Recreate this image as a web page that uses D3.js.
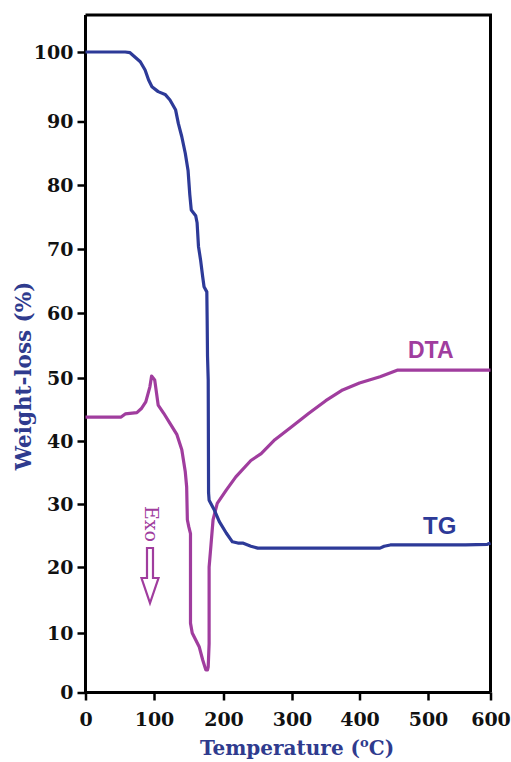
<!DOCTYPE html>
<html>
<head>
<meta charset="utf-8">
<script src="https://cdn.jsdelivr.net/npm/d3@7"></script>
<style>
  html, body { margin: 0; padding: 0; background: #fff; }
  svg { display: block; }
</style>
</head>
<body>
<svg id="chart" width="511" height="762"></svg>
<script>
// Temperature (°C) and weight loss (%) of the TG trace
const tgTemp = [0, 58, 65, 80, 87, 92, 97, 106, 116, 123, 131, 135, 140, 145, 149, 151.5, 153.6, 160, 162, 164, 167, 170, 172, 176, 176.5, 177, 178, 178.5, 179.3, 187, 194, 204, 213, 221, 228, 240, 250, 300, 380, 430, 436, 445, 500, 560, 595, 600];
const tgValue = [100, 100, 99.9, 98.6, 97.4, 96, 95, 94.3, 93.9, 93.1, 91.7, 89.7, 87.6, 85, 82.3, 78.5, 76.1, 75.2, 74.1, 70.4, 68.3, 65.7, 64.1, 63.3, 58.9, 53.4, 49.7, 31.8, 30.6, 29, 27.2, 25.4, 24, 23.8, 23.8, 23.3, 23, 23, 23, 23, 23.3, 23.5, 23.5, 23.5, 23.6, 23.8];

// Temperature (°C) and signal of the DTA trace, on the same vertical scale
const dtaTemp = [0, 52, 58, 75, 82, 88, 94, 96.5, 101, 106, 114, 123, 133, 140, 145, 147, 148, 150, 152.5, 152.5, 155, 165, 170, 174.5, 177, 178, 179.3, 179.3, 179.3, 182, 185, 191, 204, 218, 240, 255, 275, 300, 325, 350, 375, 400, 430, 455, 600];
const dtaValue = [43.8, 43.8, 44.3, 44.5, 45.2, 46.2, 48.6, 50.3, 49.7, 45.7, 44.4, 42.8, 41, 38.6, 35.1, 32.7, 27.5, 26.4, 25.3, 11.5, 10, 7.7, 5.5, 3.8, 3.8, 4.3, 8.2, 12.5, 20, 23.5, 27.5, 30.1, 32.2, 34.3, 36.9, 38, 40.2, 42.3, 44.4, 46.4, 48.1, 49.2, 50.2, 51.2, 51.2];

const xTicks = [0, 100, 200, 300, 400, 500, 600];
const yTicks = [0, 10, 20, 30, 40, 50, 60, 70, 80, 90, 100];

const TG_COLOR = "#2d3a98";
const DTA_COLOR = "#a03d9e";
const TITLE_COLOR = "#2f3b8e";
const SERIF = "'DejaVu Serif', 'Liberation Serif', serif";
const SANS = "'Liberation Sans', Arial, sans-serif";

const svg = d3.select("#chart");

// Piecewise scales follow the printed tick spacing of the figure
const x = d3.scaleLinear()
  .domain(xTicks)
  .range([85.5, 154, 223.5, 292, 359.5, 428, 490.5]);
const y = d3.scaleLinear()
  .domain(yTicks)
  .range([692.5, 633, 567, 504, 441, 378, 313, 249, 185, 121.5, 52]);

const plotTop = 15;
const left = x(0), right = x(600), bottom = y(0);

// Frame: top and right borders
svg.append("path")
  .attr("d", `M${left},${plotTop}H${right}V${bottom}`)
  .attr("fill", "none")
  .attr("stroke", "#000")
  .attr("stroke-width", 3);

// Axes
const xAxis = svg.append("g")
  .attr("transform", `translate(0,${bottom})`)
  .call(d3.axisBottom(x).tickValues(xTicks).tickSize(8).tickPadding(12).tickSizeOuter(0));
const yAxis = svg.append("g")
  .attr("transform", `translate(${left},0)`)
  .call(d3.axisLeft(y).tickValues(yTicks).tickSize(8).tickPadding(4).tickSizeOuter(0));

[xAxis, yAxis].forEach(g => {
  g.select(".domain").attr("stroke", "#000").attr("stroke-width", 3);
  g.selectAll(".tick line").attr("stroke", "#000").attr("stroke-width", 2.5);
  g.selectAll(".tick text")
    .attr("fill", "#111")
    .style("font-family", SERIF)
    .style("font-weight", "bold")
    .style("font-size", "19px");
});
// the y axis line runs up to the frame top
yAxis.select(".domain").attr("d", `M0,${bottom}V${plotTop}`);
xAxis.select(".domain").attr("d", `M${left - 1.5},0H${right}`);

// Axis titles
svg.append("text")
  .attr("transform", `translate(23,376) rotate(-90)`)
  .attr("text-anchor", "middle")
  .attr("dominant-baseline", "central")
  .attr("fill", TITLE_COLOR)
  .style("font-family", SERIF)
  .style("font-weight", "bold")
  .style("font-size", "21.5px")
  .text("Weight-loss (%)");

const xt = svg.append("text")
  .attr("x", 297)
  .attr("y", 755)
  .attr("text-anchor", "middle")
  .attr("fill", TITLE_COLOR)
  .style("font-family", SERIF)
  .style("font-weight", "bold")
  .style("font-size", "20px");
xt.append("tspan").text("Temperature (");
xt.append("tspan").attr("dy", -8).style("font-size", "13px").text("o");
xt.append("tspan").attr("dy", 8).text("C)");

// Curves
const line = d3.line().x(d => x(d[0])).y(d => y(d[1]));
const tgData = d3.zip(tgTemp, tgValue);
const dtaData = d3.zip(dtaTemp, dtaValue);

svg.append("path")
  .datum(dtaData)
  .attr("d", line)
  .attr("fill", "none")
  .attr("stroke", DTA_COLOR)
  .attr("stroke-width", 3.2)
  .attr("stroke-linejoin", "round");

svg.append("path")
  .datum(tgData)
  .attr("d", line)
  .attr("fill", "none")
  .attr("stroke", TG_COLOR)
  .attr("stroke-width", 3.2)
  .attr("stroke-linejoin", "round");

// Curve labels
svg.append("text")
  .attr("x", 408).attr("y", 358)
  .attr("fill", DTA_COLOR)
  .style("font-family", SANS).style("font-weight", "bold").style("font-size", "23px")
  .text("DTA");
svg.append("text")
  .attr("x", 423).attr("y", 534)
  .attr("fill", TG_COLOR)
  .style("font-family", SANS).style("font-weight", "bold").style("font-size", "24px")
  .text("TG");

// Exothermic direction marker
svg.append("text")
  .attr("transform", "translate(152,524) rotate(90)")
  .attr("text-anchor", "middle")
  .attr("dominant-baseline", "central")
  .attr("fill", DTA_COLOR)
  .style("font-family", SERIF)
  .style("font-size", "19px")
  .text("Exo");

const ax = 150, ay = 548;
svg.append("path")
  .attr("d", `M${ax - 3},${ay}H${ax + 3}V${ay + 30}H${ax + 8.5}L${ax},${ay + 55}L${ax - 8.5},${ay + 30}H${ax - 3}Z`)
  .attr("fill", "#fff")
  .attr("stroke", DTA_COLOR)
  .attr("stroke-width", 2.2)
  .attr("stroke-linejoin", "miter");
</script>
</body>
</html>
